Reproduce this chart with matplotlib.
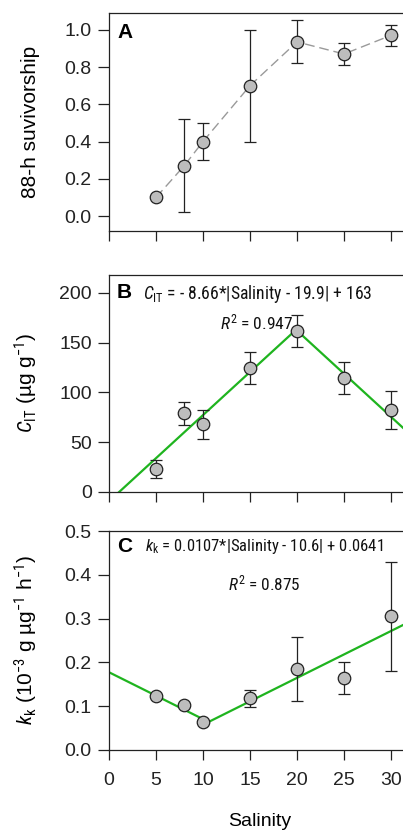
import numpy as np
import matplotlib
matplotlib.use("Agg")
import matplotlib.pyplot as plt
from matplotlib import font_manager

plt.rcParams['font.family'] = ['Liberation Sans', 'DejaVu Sans']
plt.rcParams['mathtext.fontset'] = 'custom'
plt.rcParams['mathtext.rm'] = 'Liberation Sans'
plt.rcParams['mathtext.it'] = 'Liberation Sans:italic'
plt.rcParams['mathtext.bf'] = 'Liberation Sans:bold'

salinity = [5, 8, 10, 15, 20, 25, 30]
surv = [0.10, 0.27, 0.40, 0.70, 0.935, 0.87, 0.97]
surv_err = [0.0, 0.25, 0.10, 0.30, 0.115, 0.058, 0.058]
cit = [23, 79, 68, 124.5, 162, 114.5, 82]
cit_err = [9, 11.5, 14.5, 16, 16, 16, 19]
kk = [0.1235, 0.103, 0.065, 0.118, 0.186, 0.164, 0.305]
kk_err = [0.004, 0.005, 0.004, 0.02, 0.073, 0.037, 0.125]

fit_b = dict(a=-8.66, c=19.9, d=163)
fit_c = dict(a=0.0107, c=10.6, d=0.0641)

# pick a narrow font for the equations if one is installed
names = {f.name for f in font_manager.fontManager.ttflist}
narrow = None
for cand in ['Liberation Sans Narrow', 'Arial Narrow', 'Roboto Condensed', 'Open Sans Condensed']:
    if cand in names:
        narrow = cand
        break
eq_family = [narrow, 'Liberation Sans'] if narrow else ['Liberation Sans']
if narrow:
    plt.rcParams['mathtext.rm'] = narrow
    plt.rcParams['mathtext.it'] = narrow + ':italic'

W, H = 403, 831
fig = plt.figure(figsize=(W/100, H/100), dpi=100)

left = 109 / W
ax_w_px = 32 * 9.4
width = ax_w_px / W

def ax_at(top_px, bot_px):
    return fig.add_axes([left, 1 - bot_px / H, width, (bot_px - top_px) / H])

axA = ax_at(13, 231)
axB = ax_at(275, 492)
axC = ax_at(531, 750)

mk = dict(fmt='o', ms=9, mfc='#bdbdbd', mec='#222222', mew=0.9,
          ecolor='#222222', elinewidth=0.9, capsize=4, capthick=0.9, zorder=3)

green = '#1fb41f'
TICK = 14
LAB = 15

def px(x, y):
    return (x / W, 1 - y / H)

# Panel A
axA.plot(salinity, surv, color='#9a9a9a', ls=(0, (7, 3.5)), lw=1.0, zorder=2)
axA.errorbar(salinity, surv, yerr=surv_err, **mk)
axA.set_ylim(-0.08, 1.09)
axA.set_yticks(np.arange(0, 1.01, 0.2))
axA.set_yticklabels([f"{v:.1f}" for v in np.arange(0, 1.01, 0.2)])
axA.set_ylabel("88-h suvivorship", fontsize=LAB)
fig.text(*px(117, 32), "A", fontsize=15, fontweight='bold', va='center', ha='left')

# Panel B
xs = np.linspace(0, 32, 400)
axB.plot(xs, fit_b['a'] * np.abs(xs - fit_b['c']) + fit_b['d'], color=green, lw=1.6, zorder=2)
axB.errorbar(salinity, cit, yerr=cit_err, **mk)
axB.set_ylim(0, 218)
axB.set_yticks([0, 50, 100, 150, 200])
axB.set_ylabel(r"$C_{\mathrm{IT}}$ (µg g$^{-1}$)", fontsize=LAB)
fig.text(*px(117, 293), "B", fontsize=15, fontweight='bold', va='center', ha='left')

# Panel C
axC.plot(xs, fit_c['a'] * np.abs(xs - fit_c['c']) + fit_c['d'], color=green, lw=1.6, zorder=2)
axC.errorbar(salinity, kk, yerr=kk_err, **mk)
axC.set_ylim(0, 0.5)
axC.set_yticks(np.arange(0, 0.51, 0.1))
axC.set_yticklabels([f"{v:.1f}" for v in np.arange(0, 0.51, 0.1)])
axC.set_ylabel(r"$k_{\mathrm{k}}$ (10$^{-3}$ g µg$^{-1}$ h$^{-1}$)", fontsize=LAB)
fig.text(*px(117, 546), "C", fontsize=15, fontweight='bold', va='center', ha='left')
axC.set_xlabel("Salinity", fontsize=14)
axC.xaxis.set_label_coords(0.5, (750 - 813) / 219)

for ax in (axA, axB, axC):
    ax.set_xlim(0, 32)
    ax.set_xticks([0, 5, 10, 15, 20, 25, 30])
    ax.tick_params(axis='y', direction='out', length=8, width=0.9, pad=4.5,
                   labelsize=TICK, colors='#222222')
    ax.tick_params(axis='x', direction='out', length=7, width=0.9, pad=8.5,
                   labelsize=TICK, colors='#222222')
    ax.yaxis.set_label_coords((40 - 109) / ax_w_px, 0.5)
    for s in ax.spines.values():
        s.set_linewidth(0.9)
        s.set_color('#222222')
for ax in (axA, axB):
    ax.set_xticklabels([])

# equation texts, sized to span about the same width as in the figure
eqs = [
    (r"$C_{\mathrm{IT}}$ = - 8.66*|Salinity - 19.9| + 163", 148, 368, 294),
    (r"$R^{2}$ = 0.947", 222, 292, 322),
    (r"$k_{\mathrm{k}}$ = 0.0107*|Salinity - 10.6| + 0.0641", 150, 378, 546),
    (r"$R^{2}$ = 0.875", 229, 299, 583),
]
renderer = fig.canvas.get_renderer()
for s, x0, x1, yc in eqs:
    t = fig.text(*px((x0 + x1) / 2, yc), s, fontsize=12, ha='center', va='center',
                 family=eq_family, color='#111111')
    w = t.get_window_extent(renderer).width
    t.set_fontsize(min(15, 1.04 * 12 * (x1 - x0) / w))

fig.savefig("out.png", dpi=100)
